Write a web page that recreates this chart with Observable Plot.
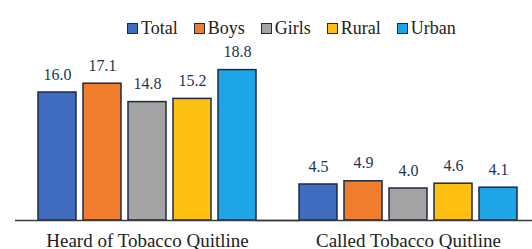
<!DOCTYPE html>
<html><head><meta charset="utf-8">
<script src="https://cdn.jsdelivr.net/npm/d3@7"></script>
<script src="https://cdn.jsdelivr.net/npm/@observablehq/plot@0.6"></script>
<style>
body{margin:0;background:#fff;}
#wrap{position:relative;width:532px;height:249px;overflow:hidden;}
#legend{position:absolute;left:127px;top:18px;display:flex;align-items:center;font-size:18px;font-family:"Liberation Serif","Times New Roman",Tinos,"DejaVu Serif";color:#222;line-height:20px;}
#legend .item{display:flex;align-items:center;margin-right:16px;}
#legend .sw{width:9px;height:9px;border:1px solid #1c2b45;margin-right:3px;}
</style></head><body><div id="wrap"></div>
<script>
const groups = ["Heard of Tobacco Quitline", "Called Tobacco Quitline"];
const series = ["Total", "Boys", "Girls", "Rural", "Urban"];
const heard = [16.0, 17.1, 14.8, 15.2, 18.8];
const called = [4.5, 4.9, 4.0, 4.6, 4.1];
const colors = ["#406cc0", "#f07d2e", "#a3a3a3", "#fdbf10", "#1da5e6"];

const data = [];
groups.forEach((g, i) => series.forEach((s, j) => data.push({group: g, series: s, value: (i ? called : heard)[j]})));

const serifStack = "'Liberation Serif', 'Times New Roman', Tinos, 'DejaVu Serif'";

const chart = Plot.plot({
  width: 532, height: 249,
  marginTop: 60, marginBottom: 29, marginLeft: 38, marginRight: 15,
  style: {fontFamily: serifStack, background: "transparent"},
  fx: {domain: groups, paddingInner: 0.165, paddingOuter: 0, axis: null, label: null},
  x: {domain: series, paddingInner: 0.1556, paddingOuter: 0, axis: null},
  y: {domain: [0, 20], axis: null},
  color: {domain: series, range: colors},
  marks: [
    Plot.barY(data, {fx: "group", x: "series", y: "value", fill: "series", stroke: "#1c2b45", strokeWidth: 1.5}),
    Plot.text(data, {fx: "group", x: "series", y: "value", text: d => d.value.toFixed(1), dy: -18, fontSize: 16, fill: "#243450", fontFamily: serifStack}),
    Plot.ruleY([groups[0]], {fx: d => d, y: () => 0, insetLeft: -23, insetRight: -44, stroke: "#3a3a3a", strokeWidth: 1.5}),
    Plot.ruleY([groups[1]], {fx: d => d, y: () => 0, insetLeft: -44, insetRight: -15, stroke: "#3a3a3a", strokeWidth: 1.5}),
    Plot.text(groups, {fx: d => d, text: d => d, frameAnchor: "bottom", dy: 26, fontSize: 19, fill: "#222", fontFamily: serifStack})
  ]
});

const wrap = document.getElementById("wrap");
wrap.appendChild(chart);
const legend = document.createElement("div");
legend.id = "legend";
series.forEach((s, i) => {
  const item = document.createElement("div");
  item.className = "item";
  const sw = document.createElement("div");
  sw.className = "sw";
  sw.style.background = colors[i];
  item.appendChild(sw);
  item.appendChild(document.createTextNode(s));
  legend.appendChild(item);
});
wrap.appendChild(legend);
</script>
</body></html>
